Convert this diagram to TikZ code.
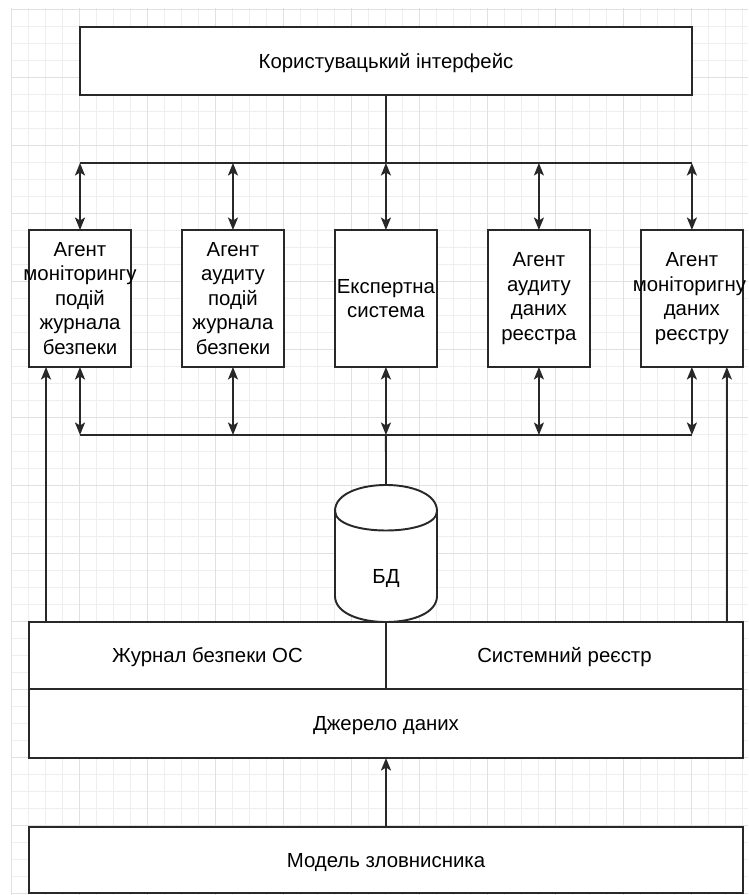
\documentclass[tikz,border=0pt]{standalone}
\usepackage{fontspec}
\setmainfont{Liberation Sans}
\usetikzlibrary{arrows.meta,positioning,calc}
\definecolor{lineDark}{RGB}{40,40,40}
\definecolor{gridMinor}{RGB}{238,238,238}
\definecolor{gridMajor}{RGB}{224,224,224}
\newcommand{\wideln}[1]{\makebox[\linewidth]{#1}}
\tikzset{
  wideBox/.style={rectangle,draw=lineDark,fill=white,line width=1.1pt,
                  minimum width=#1,minimum height=1.36cm,inner sep=0pt,outer sep=0pt,
                  text height=0.29cm,text depth=0pt,font=\fontsize{11.6}{13.9}\selectfont},
  agentBox/.style={rectangle,draw=lineDark,fill=white,line width=1.1pt,
                   text width=2.04cm,align=center,minimum height=2.74cm,
                   inner sep=0pt,outer sep=0pt,font=\fontsize{11.6}{13.9}\selectfont},
  busLine/.style={line width=1.1pt,draw=lineDark},
  dblArrow/.style={{Stealth[length=0.25cm,width=0.2cm,inset=0.06cm]}-{Stealth[length=0.25cm,width=0.2cm,inset=0.06cm]},
                   line width=1.1pt,draw=lineDark,fill=lineDark},
  upArrow/.style={-{Stealth[length=0.25cm,width=0.2cm,inset=0.06cm]},
                  line width=1.1pt,draw=lineDark,fill=lineDark},
}

\begin{document}
\begin{tikzpicture}[x=0.02cm,y=-0.02cm]
  \useasboundingbox (0,0) rectangle (748,895);
  \fill[white] (0,0) rectangle (748,895);
  % grid
  \foreach \k in {0,...,43}{\draw[gridMinor,line width=0.02cm]({11+17*\k},8)--({11+17*\k},895);}
  \foreach \k in {0,...,52}{\draw[gridMinor,line width=0.02cm](11,{9.5+17*\k})--(748,{9.5+17*\k});}
  \foreach \k in {0,4,...,40}{\draw[gridMajor,line width=0.02cm]({11+17*\k},8)--({11+17*\k},895);}
  \foreach \k in {0,4,...,52}{\draw[gridMajor,line width=0.02cm](11,{9.5+17*\k})--(748,{9.5+17*\k});}

  \node[wideBox=12.24cm](ui) at (386,61){Користувацький інтерфейс};
  \node[agentBox](ag1) at (80,298.5){Агент\\\wideln{моніторингу}\\подій\\журнала\\безпеки};
  \node[agentBox,right=1.02cm of ag1](ag2){Агент\\аудиту\\подій\\журнала\\безпеки};
  \node[agentBox,right=1.02cm of ag2](ag3){Експертна\\система};
  \node[agentBox,right=1.02cm of ag3](ag4){Агент\\аудиту\\даних\\реєстра};
  \node[agentBox,right=1.02cm of ag4](ag5){Агент\\\wideln{\hspace*{-0.1cm}моніторигну}\\даних\\реєстру};

  \node[wideBox=7.14cm,minimum height=1.34cm](journ) at (207.5,655.5){Журнал безпеки ОС};
  \node[wideBox=7.14cm,minimum height=1.34cm,right=0pt of journ](sysreg){Системний реєстр};
  \node[wideBox=14.28cm,minimum height=1.38cm](src) at (386,723.5){Джерело даних};
  \node[wideBox=14.28cm,minimum height=1.32cm](model) at (386,860){Модель зловнисника};

  % buses
  \coordinate (tbus) at (0,163);
  \coordinate (bbus) at (0,435);
  \draw[busLine](ui.south)--(ui.south |- tbus);
  \draw[busLine](ag1.north |- tbus)--(ag5.north |- tbus);
  \draw[busLine](ag1.south |- bbus)--(ag5.south |- bbus);
  \foreach \a in {ag1,ag2,ag3,ag4,ag5}{
    \draw[dblArrow](\a.north |- tbus)--(\a.north);
    \draw[dblArrow](\a.south)--(\a.south |- bbus);
  }

  % database
  \coordinate (bdTop) at (386,485);
  \draw[busLine](ag3.south |- bbus)--(bdTop);
  \filldraw[draw=lineDark,fill=white,line width=1.1pt]
    (335,511) .. controls (335,476.3) and (437,476.3) .. (437,511)
    -- (437,596) .. controls (437,630.7) and (335,630.7) .. (335,596) -- cycle;
  \draw[busLine](335,511) .. controls (335,537) and (437,537) .. (437,511);
  \node[font=\fontsize{11.6}{13.9}\selectfont](bd) at (386,579){БД};

  \draw[upArrow]([xshift=-0.68cm]ag1.south |- journ.north)--([xshift=-0.68cm]ag1.south);
  \draw[upArrow]([xshift=0.7cm]ag5.south |- sysreg.north)--([xshift=0.7cm]ag5.south);
  \draw[upArrow](model)--(src);
\end{tikzpicture}
\end{document}
